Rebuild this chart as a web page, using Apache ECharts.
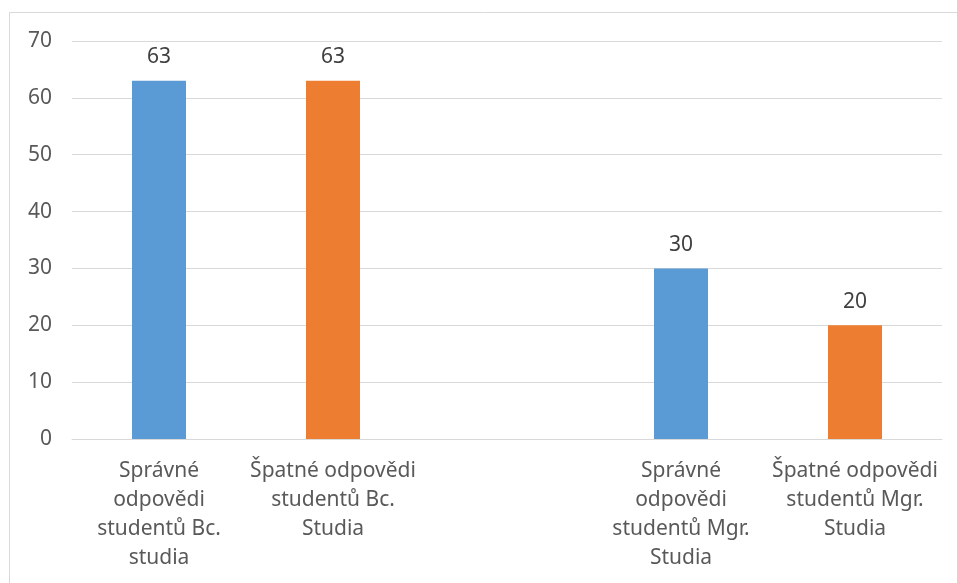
<!DOCTYPE html>
<html>
<head>
<meta charset="utf-8">
<script src="https://cdn.jsdelivr.net/npm/echarts@6/dist/echarts.min.js"></script>
<style>
html,body{margin:0;padding:0;background:#fff;}
#chart{width:957px;height:583px;}
</style>
</head>
<body>
<div id="chart"></div>
<script>
// kategorie (třetí slot je prázdná mezera mezi Bc. a Mgr.)
var categories = [
	'Správné\nodpovědi\nstudentů Bc.\nstudia',
	'Špatné odpovědi\nstudentů Bc.\nStudia',
	'',
	'Správné\nodpovědi\nstudentů Mgr.\nStudia',
	'Špatné odpovědi\nstudentů Mgr.\nStudia'
];
var spravne = [63, null, null, 30, null];
var spatne = [null, 63, null, null, 20];
var yTicks = {min: 0, max: 70, step: 10};

var myChart = echarts.init(document.getElementById('chart'));
var font = 'Noto Sans, sans-serif';
var opts = {
	animation: false,
	grid: {left: 72, right: 15, top: 41, bottom: 144},
	graphic: [{
		type: 'rect',
		shape: {x: 9.5, y: 12.5, width: 960, height: 600},
		style: {fill: 'none', stroke: '#d9d9d9', lineWidth: 1},
		silent: true
	}],
	xAxis: {
		type: 'category',
		data: categories,
		axisLine: {lineStyle: {color: '#d9d9d9'}},
		axisTick: {show: false},
		axisLabel: {
			interval: 0,
			color: '#595959',
			fontSize: 21,
			fontFamily: font,
			lineHeight: 29,
			margin: 18,
			align: 'center'
		}
	},
	yAxis: {
		type: 'value',
		min: yTicks.min,
		max: yTicks.max,
		interval: yTicks.step,
		axisLine: {show: false},
		axisTick: {show: false},
		splitLine: {lineStyle: {color: '#d9d9d9'}},
		axisLabel: {color: '#595959', fontSize: 21, fontFamily: font, margin: 20}
	},
	series: [
		{
			name: 'Správné',
			type: 'bar',
			stack: 'a',
			barWidth: 54,
			itemStyle: {color: '#5b9bd5'},
			label: {show: true, position: 'top', distance: 13, color: '#404040', fontSize: 21, fontFamily: font},
			data: spravne
		},
		{
			name: 'Špatné',
			type: 'bar',
			stack: 'a',
			barWidth: 54,
			itemStyle: {color: '#ed7d31'},
			label: {show: true, position: 'top', distance: 13, color: '#404040', fontSize: 21, fontFamily: font},
			data: spatne
		}
	]
};
myChart.setOption(opts);
</script>
</body>
</html>
